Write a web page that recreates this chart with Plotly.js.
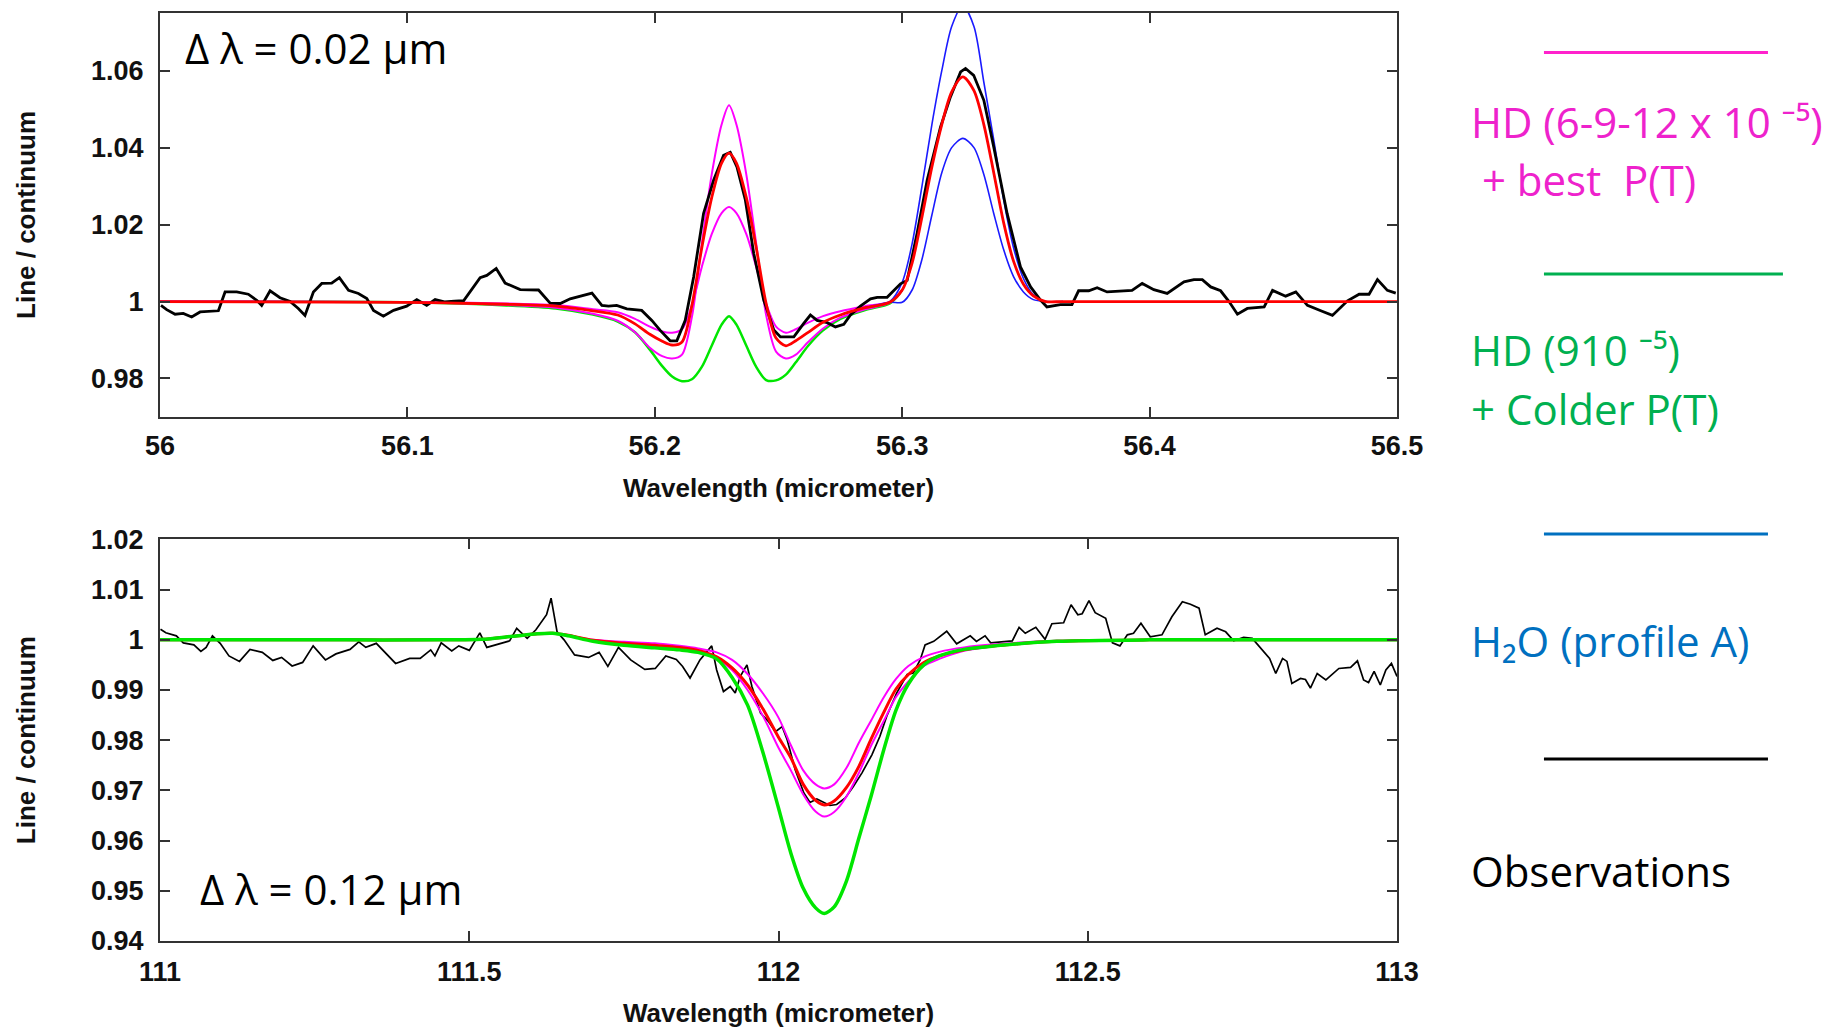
<!DOCTYPE html>
<html>
<head>
<meta charset="utf-8">
<script src="https://cdn.plot.ly/plotly-3.0.1.min.js"></script>
<style>
  html, body { margin: 0; padding: 0; background: #ffffff; }
  #chart { width: 1831px; height: 1033px; }
</style>
</head>
<body>
<div id="chart"></div>
<script>
// ---------------- Top panel (56 - 56.5 micrometer) ----------------
// Observations: [wavelength, line/continuum]
const obsTop = [
  [56.0004,0.9990],[56.0027,0.9979],[56.0061,0.9967],[56.0094,0.9969],[56.0128,0.9960],[56.0162,0.9973],
  [56.0236,0.9976],[56.0263,1.0025],[56.0310,1.0025],[56.0357,1.0019],[56.0391,1.0003],[56.0411,0.9990],
  [56.0445,1.0028],[56.0485,1.0010],[56.0526,1.0000],[56.0559,0.9982],[56.0586,0.9964],[56.0620,1.0025],
  [56.0654,1.0047],[56.0694,1.0048],[56.0725,1.0062],[56.0762,1.0029],[56.0802,1.0021],[56.0836,1.0008],
  [56.0863,0.9977],[56.0903,0.9962],[56.0944,0.9977],[56.0997,0.9988],[56.1038,1.0005],[56.1078,0.9990],
  [56.1112,1.0005],[56.1150,0.9999],[56.1190,1.0001],[56.1227,1.0002],[56.1294,1.0062],[56.1321,1.0068],
  [56.1359,1.0086],[56.1395,1.0048],[56.1456,1.0031],[56.1530,1.0030],[56.1577,0.9996],[56.1618,0.9995],
  [56.1658,1.0007],[56.1746,1.0022],[56.1786,0.9990],[56.1813,0.9988],[56.1846,0.9990],[56.1887,0.9981],
  [56.1947,0.9977],[56.1988,0.9951],[56.2022,0.9925],[56.2062,0.9898],[56.2089,0.9898],[56.2123,0.9951],
  [56.2157,1.0064],[56.2197,1.0229],[56.2238,1.0316],[56.2278,1.0380],[56.2305,1.0388],[56.2332,1.0350],
  [56.2366,1.0264],[56.2400,1.0125],[56.2440,1.0004],[56.2481,0.9926],[56.2508,0.9908],[56.2562,0.9908],
  [56.2602,0.9943],[56.2629,0.9965],[56.2656,0.9951],[56.2697,0.9945],[56.2730,0.9934],[56.2764,0.9941],
  [56.2791,0.9965],[56.2831,0.9988],[56.2872,1.0007],[56.2899,1.0011],[56.2939,1.0011],[56.2966,1.0028],
  [56.2993,1.0046],[56.3020,1.0055],[56.3060,1.0177],[56.3101,1.0316],[56.3155,1.0454],[56.3195,1.0532],
  [56.3236,1.0597],[56.3256,1.0606],[56.3289,1.0588],[56.3330,1.0523],[56.3370,1.0402],[56.3424,1.0229],
  [56.3478,1.0090],[56.3519,1.0038],[56.3559,1.0004],[56.3585,0.9986],[56.3639,0.9992],[56.3686,0.9992],
  [56.3713,1.0028],[56.3754,1.0028],[56.3788,1.0036],[56.3828,1.0025],[56.3882,1.0028],[56.3929,1.0029],
  [56.3970,1.0047],[56.4017,1.0031],[56.4071,1.0021],[56.4139,1.0051],[56.4179,1.0057],[56.4213,1.0057],
  [56.4247,1.0038],[56.4287,1.0028],[56.4321,1.0000],[56.4355,0.9967],[56.4395,0.9982],[56.4463,0.9986],
  [56.4497,1.0029],[56.4550,1.0014],[56.4591,1.0025],[56.4638,0.9990],[56.4692,0.9976],[56.4739,0.9964],
  [56.4800,1.0002],[56.4847,1.0019],[56.4887,1.0019],[56.4921,1.0057],[56.4961,1.0029],[56.4995,1.0022]
];

// Model wavelength grid (top panel)
const modelTopX = [56.00, 56.10, 56.14, 56.16, 56.175, 56.185, 56.192, 56.198, 56.203, 56.207,
  56.211, 56.215, 56.219, 56.223, 56.227, 56.230, 56.233, 56.237, 56.241, 56.245,
  56.249, 56.253, 56.257, 56.262, 56.268, 56.275, 56.285, 56.295, 56.300, 56.304,
  56.308, 56.312, 56.316, 56.320, 56.3245, 56.329, 56.333, 56.337, 56.341, 56.345,
  56.349, 56.353, 56.358, 56.365, 56.40, 56.50];
// Best model (red)
const bestTopY = [1.0000, 0.9998, 0.9993, 0.9988, 0.9976, 0.9965, 0.9942, 0.9915, 0.9897, 0.9887,
  0.9895, 0.9990, 1.0140, 1.0270, 1.0360, 1.0386, 1.0360, 1.0270, 1.0140, 0.9995,
  0.9905, 0.9885, 0.9898, 0.9920, 0.9946, 0.9965, 0.9984, 0.9998, 1.0030, 1.0100,
  1.0220, 1.0350, 1.0460, 1.0545, 1.0584, 1.0548, 1.0460, 1.0335, 1.0205, 1.0105,
  1.0045, 1.0015, 1.0000, 1.0000, 1.0000, 1.0000];
// HD 12e-5 (magenta, strong) on the first 29 grid points
const hdHighTopY = [1.0000, 0.9998, 0.9991, 0.9984, 0.9968, 0.9950, 0.9920, 0.9880, 0.9858, 0.9852,
  0.9862, 0.9960, 1.0150, 1.0330, 1.0460, 1.0510, 1.0460, 1.0330, 1.0150, 0.9965,
  0.9870, 0.9852, 0.9862, 0.9895, 0.9930, 0.9958, 0.9980, 0.9997, 1.0030];
// HD 6e-5 (magenta, weak)
const hdLowTopY = [1.0000, 0.9999, 0.9995, 0.9991, 0.9980, 0.9972, 0.9955, 0.9935, 0.9922, 0.9919,
  0.9928, 0.9990, 1.0090, 1.0175, 1.0230, 1.0246, 1.0230, 1.0175, 1.0090, 0.9995,
  0.9935, 0.9919, 0.9928, 0.9945, 0.9962, 0.9975, 0.9988, 0.9999, 1.0030];
// HD 9e-5 + colder P(T) (green)
const colderTopY = [1.0000, 0.9998, 0.9990, 0.9982, 0.9966, 0.9948, 0.9920, 0.9875, 0.9832, 0.9805,
  0.9793, 0.9798, 0.9830, 0.9885, 0.9940, 0.9962, 0.9940, 0.9885, 0.9830, 0.9796,
  0.9795, 0.9810, 0.9842, 0.9885, 0.9925, 0.9955, 0.9978, 0.9995, 1.0030];
// H2O profile variations (blue) around the 56.325 line
const h2oX = [56.285, 56.295, 56.300, 56.304, 56.308, 56.312, 56.316, 56.320, 56.3245,
  56.329, 56.333, 56.337, 56.341, 56.345, 56.349, 56.353, 56.358, 56.365];
const h2oHighY = [0.9984, 1.0000, 1.0050, 1.0150, 1.0300, 1.0460, 1.0600, 1.0715, 1.0770,
  1.0715, 1.0570, 1.0420, 1.0265, 1.0140, 1.0060, 1.0018, 1.0000, 1.0000];
const h2oLowY = [0.9984, 0.9998, 0.9998, 1.0030, 1.0110, 1.0225, 1.0335, 1.0400, 1.0424,
  1.0400, 1.0330, 1.0229, 1.0135, 1.0065, 1.0025, 1.0005, 1.0000, 1.0000];

// ---------------- Bottom panel (111 - 113 micrometer) ----------------
const obsBot = [
  [111.0008,1.0021],[111.0094,1.0014],[111.0264,1.0008],[111.0377,0.9994],[111.0548,0.9990],[111.0661,0.9977],
  [111.0746,0.9985],[111.0848,1.0008],[111.0973,0.9993],[111.1115,0.9968],[111.1285,0.9957],[111.1455,0.9981],
  [111.1654,0.9975],[111.1824,0.9959],[111.1966,0.9965],[111.2136,0.9948],[111.2306,0.9955],[111.2476,0.9988],
  [111.2675,0.9960],[111.2845,0.9972],[111.3072,0.9981],[111.3214,0.9996],[111.3327,0.9985],[111.3497,0.9993],
  [111.3809,0.9953],[111.4037,0.9963],[111.4207,0.9963],[111.4377,0.9980],[111.4445,0.9968],[111.4547,0.9994],
  [111.4717,0.9978],[111.4831,0.9988],[111.5001,0.9979],[111.5171,1.0014],[111.5284,0.9985],[111.5512,0.9994],
  [111.5653,0.9998],[111.5767,1.0023],[111.5937,1.0003],[111.6078,1.0020],[111.6250,1.0050],[111.6323,1.0083],
  [111.6420,1.0016],[111.6533,1.0000],[111.6703,0.9970],[111.6929,0.9965],[111.7100,0.9975],[111.7241,0.9947],
  [111.7413,0.9985],[111.7610,0.9960],[111.7838,0.9941],[111.8008,0.9943],[111.8178,0.9968],[111.8348,0.9961],
  [111.8450,0.9947],[111.8570,0.9924],[111.8730,0.9960],[111.8920,0.9988],[111.9000,0.9940],[111.9110,0.9897],
  [111.9220,0.9907],[111.9300,0.9894],[111.9380,0.9927],[111.9490,0.9950],[111.9570,0.9907],[111.9710,0.9854],
  [111.9840,0.9837],[111.9950,0.9817],[112.0060,0.9827],[112.0140,0.9801],[112.0270,0.9741],[112.0410,0.9695],
  [112.0510,0.9676],[112.0620,0.9683],[112.0730,0.9676],[112.0830,0.9670],[112.0940,0.9672],[112.1080,0.9685],
  [112.1210,0.9708],[112.1350,0.9735],[112.1510,0.9771],[112.1640,0.9808],[112.1750,0.9848],[112.1910,0.9894],
  [112.2080,0.9931],[112.2180,0.9934],[112.2290,0.9960],[112.2370,0.9990],[112.2510,0.9997],[112.2720,1.0017],
  [112.2880,0.9992],[112.3100,1.0008],[112.3200,0.9997],[112.3340,1.0008],[112.3430,0.9994],[112.3590,0.9996],
  [112.3780,0.9998],[112.3890,1.0025],[112.3990,1.0013],[112.4160,1.0025],[112.4310,1.0001],[112.4420,1.0032],
  [112.4610,1.0034],[112.4730,1.0070],[112.4840,1.0050],[112.4910,1.0052],[112.5020,1.0078],[112.5120,1.0054],
  [112.5290,1.0043],[112.5400,0.9994],[112.5520,0.9988],[112.5640,1.0010],[112.5740,1.0013],[112.5860,1.0033],
  [112.6010,1.0006],[112.6200,1.0010],[112.6360,1.0046],[112.6530,1.0076],[112.6660,1.0071],[112.6800,1.0063],
  [112.6900,1.0010],[112.7090,1.0023],[112.7230,1.0016],[112.7360,0.9998],[112.7520,1.0005],[112.7660,1.0003],
  [112.7830,0.9980],[112.7940,0.9963],[112.8040,0.9933],[112.8150,0.9963],[112.8220,0.9957],[112.8300,0.9913],
  [112.8440,0.9923],[112.8520,0.9921],[112.8600,0.9904],[112.8710,0.9933],[112.8850,0.9920],[112.9060,0.9943],
  [112.9250,0.9945],[112.9360,0.9958],[112.9460,0.9920],[112.9540,0.9915],[112.9630,0.9937],[112.9730,0.9910],
  [112.9820,0.9940],[112.9910,0.9953],[113.0000,0.9927]
];

const modelBotX = [111.0, 111.3, 111.45, 111.52, 111.57, 111.61, 111.635, 111.66, 111.70, 111.75,
  111.80, 111.84, 111.87, 111.90, 111.925, 111.95, 111.975, 112.0, 112.02, 112.04,
  112.06, 112.074, 112.09, 112.11, 112.13, 112.15, 112.17, 112.19, 112.21, 112.235,
  112.26, 112.30, 112.35, 112.45, 112.6, 113.0];
const bestBotY = [1.0000, 1.0000, 1.0000, 1.0001, 1.0007, 1.0012, 1.0013, 1.0009, 0.9999, 0.9993,
  0.9989, 0.9985, 0.9979, 0.9966, 0.9944, 0.9910, 0.9862, 0.9806, 0.9765, 0.9712,
  0.9680, 0.9671, 0.9679, 0.9706, 0.9748, 0.9803, 0.9855, 0.9902, 0.9931, 0.9955,
  0.9968, 0.9980, 0.9988, 0.9997, 1.0000, 1.0000];
const hdLowBotY = [1.0000, 1.0000, 1.0000, 1.0001, 1.0007, 1.0012, 1.0013, 1.0009, 1.0000, 0.9996,
  0.9993, 0.9988, 0.9983, 0.9975, 0.9960, 0.9932, 0.9893, 0.9845, 0.9790, 0.9740,
  0.9712, 0.9704, 0.9712, 0.9745, 0.9795, 0.9840, 0.9885, 0.9922, 0.9948, 0.9966,
  0.9976, 0.9985, 0.9991, 0.9998, 1.0000, 1.0000];
const hdHighBotY = [1.0000, 1.0000, 1.0000, 1.0001, 1.0007, 1.0012, 1.0013, 1.0009, 0.9998, 0.9991,
  0.9986, 0.9982, 0.9976, 0.9962, 0.9940, 0.9900, 0.9848, 0.9785, 0.9740, 0.9692,
  0.9658, 0.9648, 0.9657, 0.9688, 0.9735, 0.9790, 0.9838, 0.9886, 0.9917, 0.9948,
  0.9962, 0.9978, 0.9987, 0.9997, 1.0000, 1.0000];
const colderBotY = [1.0000, 1.0000, 1.0000, 1.0001, 1.0007, 1.0012, 1.0013, 1.0008, 0.9997, 0.9989,
  0.9984, 0.9980, 0.9975, 0.9962, 0.9925, 0.9870, 0.9775, 0.9665, 0.9575, 0.9505,
  0.9466, 0.9455, 0.9468, 0.9520, 0.9605, 0.9690, 0.9780, 0.9860, 0.9912, 0.9950,
  0.9968, 0.9981, 0.9988, 0.9997, 1.0000, 1.0000];

// Tick labels
const topXTicks = [56, 56.1, 56.2, 56.3, 56.4, 56.5];
const topXLabels = ['56', '56.1', '56.2', '56.3', '56.4', '56.5'];
const topYTicks = [0.98, 1.0, 1.02, 1.04, 1.06];
const topYLabels = ['0.98', '1', '1.02', '1.04', '1.06'];
const botXTicks = [111, 111.5, 112, 112.5, 113];
const botXLabels = ['111', '111.5', '112', '112.5', '113'];
const botYTicks = [0.94, 0.95, 0.96, 0.97, 0.98, 0.99, 1.0, 1.01, 1.02];
const botYLabels = ['0.94', '0.95', '0.96', '0.97', '0.98', '0.99', '1', '1.01', '1.02'];

// Legend entries (text, colour)
const legendLabels = ['HD (6-9-12 x 10 \u207B\u2075)', ' + best  P(T)', 'HD (910 \u207B\u2075)', '+ Colder P(T)', 'H\u2082O (profile A)', 'Observations'];
const legendColors = ['#ee22cc', '#ee22cc', '#00b050', '#00b050', '#0070c0', '#000000'];

// ---------------- Colours ----------------
const C_RED = '#ff0000', C_MAG = '#ff00ff', C_GREEN = '#00e600', C_BLUE = '#1a1aff', C_BLACK = '#000000';

const xs = a => a.map(p => p[0]);
const ys = a => a.map(p => p[1]);
const n29 = hdHighTopY.length;

function tr(x, y, color, width, xa, ya, shape) {
  return { x: x, y: y, type: 'scatter', mode: 'lines', xaxis: xa, yaxis: ya,
    line: { color: color, width: width, shape: shape || 'linear', smoothing: 0.8 },
    hoverinfo: 'skip', showlegend: false };
}

const traces = [
  // top panel
  tr(modelTopX.slice(0, n29), colderTopY, C_GREEN, 2.5, 'x', 'y', 'spline'),
  tr(modelTopX.slice(0, n29), hdHighTopY, C_MAG, 2, 'x', 'y', 'spline'),
  tr(modelTopX.slice(0, n29), hdLowTopY, C_MAG, 2, 'x', 'y', 'spline'),
  tr(h2oX, h2oHighY, C_BLUE, 1.6, 'x', 'y', 'spline'),
  tr(h2oX, h2oLowY, C_BLUE, 1.6, 'x', 'y', 'spline'),
  tr(xs(obsTop), ys(obsTop), C_BLACK, 2.8, 'x', 'y'),
  tr(modelTopX, bestTopY, C_RED, 2.8, 'x', 'y', 'spline'),
  // bottom panel
  tr(xs(obsBot), ys(obsBot), C_BLACK, 1.7, 'x2', 'y2'),
  tr(modelBotX, hdLowBotY, C_MAG, 2, 'x2', 'y2', 'spline'),
  tr(modelBotX, hdHighBotY, C_MAG, 2, 'x2', 'y2', 'spline'),
  tr(modelBotX, bestBotY, C_RED, 3, 'x2', 'y2', 'spline'),
  tr(modelBotX, colderBotY, C_GREEN, 3.5, 'x2', 'y2', 'spline')
];

const TICKFONT = { family: 'Liberation Sans, Arial, sans-serif', size: 27, color: '#111', weight: 'bold' };
const TITLEFONT = { family: 'Liberation Sans, Arial, sans-serif', size: 26, color: '#111', weight: 'bold' };

function axisBase() {
  return { showgrid: false, zeroline: false, showline: true, mirror: 'ticks',
    linecolor: '#333', linewidth: 2, ticks: 'inside', ticklen: 10, tickwidth: 2, tickcolor: '#333',
    tickfont: TICKFONT, fixedrange: true, tickmode: 'array' };
}

const layout = {
  width: 1831, height: 1033,
  margin: { l: 160, r: 434, t: 13, b: 92 },
  paper_bgcolor: '#ffffff', plot_bgcolor: '#ffffff',
  showlegend: false, hovermode: false,
  xaxis: Object.assign(axisBase(), { anchor: 'y', range: [56, 56.5], tickvals: topXTicks, ticktext: topXLabels,
    ticklabelstandoff: 4,
    title: { text: 'Wavelength (micrometer)', font: TITLEFONT, standoff: 18 } }),
  yaxis: Object.assign(axisBase(), { domain: [0.5647, 1], anchor: 'x', range: [0.97, 1.075], tickvals: topYTicks, ticktext: topYLabels,
    ticklabelstandoff: 9,
    title: { text: 'Line / continuum', font: TITLEFONT, standoff: 48 } }),
  xaxis2: Object.assign(axisBase(), { anchor: 'y2', range: [111, 113], tickvals: botXTicks, ticktext: botXLabels,
    ticklabelstandoff: 6,
    title: { text: 'Wavelength (micrometer)', font: TITLEFONT, standoff: 17 } }),
  yaxis2: Object.assign(axisBase(), { domain: [0, 0.4327], anchor: 'x2', range: [0.94, 1.02], tickvals: botYTicks, ticktext: botYLabels,
    ticklabelstandoff: 9,
    title: { text: 'Line / continuum', font: TITLEFONT, standoff: 48 } }),
  annotations: [],
  shapes: []
};

const ANNOFONT = 'Open Sans, Noto Sans, DejaVu Sans, sans-serif';
layout.annotations.push({ xref: 'paper', yref: 'paper', x: 0.0186, y: 0.9625, xanchor: 'left', yanchor: 'middle',
  text: 'Δ λ = 0.02 µm', showarrow: false, font: { family: ANNOFONT, size: 42, color: '#000' } });
layout.annotations.push({ xref: 'paper', yref: 'paper', x: 0.0307, y: 0.0565, xanchor: 'left', yanchor: 'middle',
  text: 'Δ λ = 0.12 µm', showarrow: false, font: { family: ANNOFONT, size: 42, color: '#000' } });

// legend texts (paper y positions)
const legendTextY = [0.8836, 0.8211, 0.6369, 0.5733, 0.3233, 0.0765];
legendLabels.forEach((t, i) => {
  layout.annotations.push({ xref: 'paper', yref: 'paper', x: 1.0585, y: legendTextY[i], xanchor: 'left', yanchor: 'middle',
    text: t, showarrow: false, font: { family: ANNOFONT, size: 42, color: legendColors[i] } });
});
// legend line samples
const legendLineY = [0.9574, 0.7188, 0.4386, 0.1961];
const legendLineColors = ['#ff22cc', '#00b050', '#0070c0', '#000000'];
const legendLineX1 = [1.2999, 1.3120, 1.2999, 1.2999];
legendLineY.forEach((yv, i) => {
  layout.shapes.push({ type: 'line', xref: 'paper', yref: 'paper', x0: 1.1188, x1: legendLineX1[i], y0: yv, y1: yv,
    line: { color: legendLineColors[i], width: 3 } });
});

Plotly.newPlot('chart', traces, layout, { displayModeBar: false, staticPlot: true });
</script>
</body>
</html>
